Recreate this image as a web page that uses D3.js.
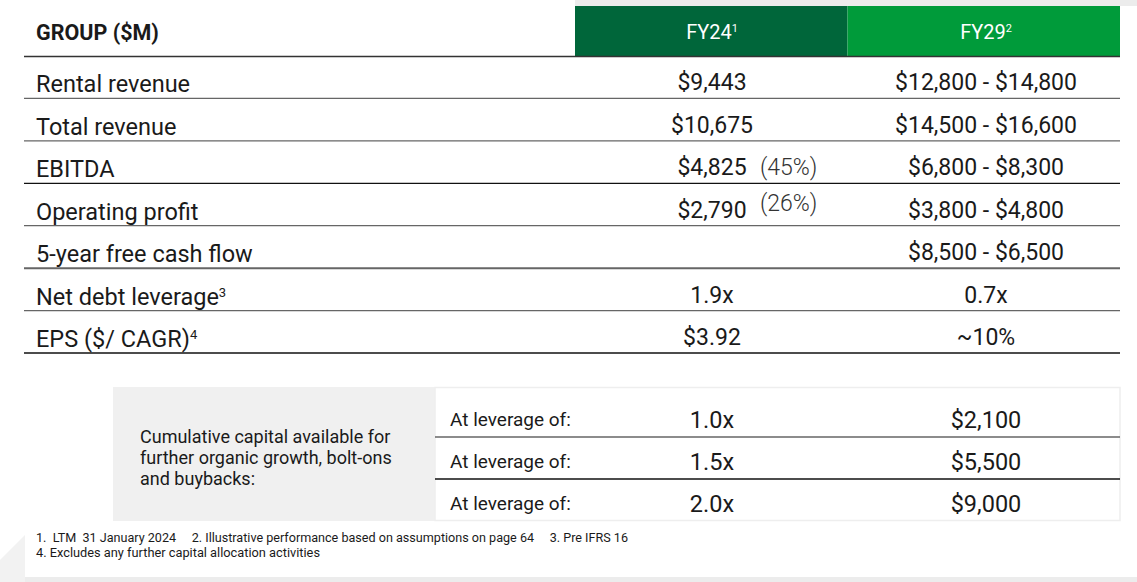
<!DOCTYPE html>
<html>
<head>
<meta charset="utf-8">
<script src="https://cdn.jsdelivr.net/npm/d3@7"></script>
<style>
  body { margin: 0; background: #fff; }
  svg { display: block; font-family: Roboto, "Noto Sans", sans-serif; }
</style>
</head>
<body>
<svg width="1137" height="582"></svg>
<script>
// table contents
var headerTitle = "GROUP ($M)";
var columnNames = ["FY24", "FY29"];
var columnNotes = ["1", "2"];

var rowLabels = ["Rental revenue", "Total revenue", "EBITDA", "Operating profit",
                 "5-year free cash flow", "Net debt leverage", "EPS ($/ CAGR)"];
var rowNotes = ["", "", "", "", "", "3", "4"];
var fy24Values = ["$9,443", "$10,675", "$4,825", "$2,790", "", "1.9x", "$3.92"];
var fy24Margins = ["", "", "(45%)", "(26%)", "", "", ""];
var fy29Values = ["$12,800 - $14,800", "$14,500 - $16,600", "$6,800 - $8,300",
                  "$3,800 - $4,800", "$8,500 - $6,500", "0.7x", "~10%"];

var capitalText = ["Cumulative capital available for", "further organic growth, bolt-ons", "and buybacks:"];
var leverageLabels = ["At leverage of:", "At leverage of:", "At leverage of:"];
var leverageMultiples = ["1.0x", "1.5x", "2.0x"];
var capitalValues = ["$2,100", "$5,500", "$9,000"];

var footnotes = [
  "1.  LTM  31 January 2024     2. Illustrative performance based on assumptions on page 64     3. Pre IFRS 16",
  "4. Excludes any further capital allocation activities"
];

var svg = d3.select("svg");
var width = 1137, height = 582;

// faint page frame
svg.append("rect").attr("x", 575).attr("y", 0).attr("width", width - 575).attr("height", 6).attr("fill", "#ececec");
svg.append("rect").attr("x", 20).attr("y", 577).attr("width", width - 20).attr("height", 5).attr("fill", "#ececec");
svg.append("path").attr("d", "M0,582 L0,560 L25,535 L25,582 Z").attr("fill", "#f2f2f2");

// column positions
var colX = d3.scaleOrdinal().domain(columnNames).range([712, 986]);
var colBand = d3.scaleBand().domain(columnNames).range([575, 1120]);
var colFill = d3.scaleOrdinal().domain(columnNames).range(["#00663a", "#009b3a"]);

var rowY = d3.scaleBand().domain(rowLabels).range([56, 353]);

// header
svg.append("text")
  .attr("x", 36).attr("y", 40)
  .attr("font-size", 21.5).attr("font-weight", "bold").attr("fill", "#1a1a1a")
  .text(headerTitle);

var head = svg.selectAll("g.head")
  .data(columnNames)
  .enter().append("g").attr("class", "head");

head.append("rect")
  .attr("x", d => colBand(d)).attr("y", 6)
  .attr("width", colBand.bandwidth()).attr("height", 50)
  .attr("fill", d => colFill(d));

var headText = head.append("text")
  .attr("x", d => colX(d)).attr("y", 39)
  .attr("text-anchor", "middle").attr("fill", "#fff").attr("font-size", 20);
headText.append("tspan").text(d => d);
headText.append("tspan").attr("font-size", 11).attr("dy", -7).text((d, i) => columnNotes[i]);

svg.append("line")
  .attr("x1", 24).attr("x2", 1120).attr("y1", 56.5).attr("y2", 56.5)
  .attr("stroke", "#333").attr("stroke-width", 1.5);

// body rows
var rows = svg.selectAll("g.row")
  .data(rowLabels)
  .enter().append("g").attr("class", "row")
  .attr("transform", d => "translate(0," + rowY(d) + ")");

var base = rowY.bandwidth() - 6;

var lbl = rows.append("text")
  .attr("x", 36).attr("y", base)
  .attr("font-size", 23.5).attr("fill", "#1a1a1a");
lbl.append("tspan").text(d => d);
lbl.append("tspan").attr("font-size", 13).attr("dy", -8).text((d, i) => rowNotes[i]);

rows.append("text")
  .attr("x", colX("FY24")).attr("y", base - 2)
  .attr("text-anchor", "middle").attr("font-size", 23).attr("fill", "#1a1a1a")
  .text((d, i) => fy24Values[i]);

rows.append("text")
  .attr("x", 760).attr("y", (d, i) => i === 3 ? base - 9 : base - 2)
  .attr("font-size", 23).attr("font-weight", 300).attr("fill", "#333")
  .text((d, i) => fy24Margins[i]);

rows.append("text")
  .attr("x", colX("FY29")).attr("y", base - 2)
  .attr("text-anchor", "middle").attr("font-size", 23).attr("fill", "#1a1a1a")
  .text((d, i) => fy29Values[i]);

rows.append("line")
  .attr("x1", 24).attr("x2", 1120)
  .attr("y1", rowY.bandwidth()).attr("y2", rowY.bandwidth())
  .attr("stroke", (d, i) => (i === 2 || i === 6) ? "#111" : "#666")
  .attr("stroke-width", (d, i) => i === 4 ? 2 : 1.3);

// capital box
var boxTop = 387, boxBottom = 521;
svg.append("rect")
  .attr("x", 113).attr("y", boxTop).attr("width", 322).attr("height", boxBottom - boxTop)
  .attr("fill", "#f0f0f0");
svg.append("rect")
  .attr("x", 435).attr("y", boxTop + 0.5).attr("width", 685).attr("height", boxBottom - boxTop - 1)
  .attr("fill", "#fff").attr("stroke", "#eeeeee").attr("stroke-width", 1.5);

svg.append("g").selectAll("text")
  .data(capitalText)
  .enter().append("text")
  .attr("x", 140).attr("y", (d, i) => 443 + i * 21)
  .attr("font-size", 18).attr("fill", "#1a1a1a")
  .text(d => d);

var levY = d3.scaleBand().domain(d3.range(leverageLabels.length)).range([395, boxBottom]);

var lev = svg.selectAll("g.lev")
  .data(leverageLabels)
  .enter().append("g").attr("class", "lev")
  .attr("transform", (d, i) => "translate(0," + levY(i) + ")");

lev.append("text")
  .attr("x", 450).attr("y", 31)
  .attr("font-size", 19).attr("fill", "#1a1a1a")
  .text(d => d);

lev.append("text")
  .attr("x", colX("FY24")).attr("y", 33)
  .attr("text-anchor", "middle").attr("font-size", 23.5).attr("fill", "#1a1a1a")
  .text((d, i) => leverageMultiples[i]);

lev.append("text")
  .attr("x", colX("FY29")).attr("y", 33)
  .attr("text-anchor", "middle").attr("font-size", 23.5).attr("fill", "#1a1a1a")
  .text((d, i) => capitalValues[i]);

lev.filter((d, i) => i < leverageLabels.length - 1)
  .append("line")
  .attr("x1", 435).attr("x2", 1120)
  .attr("y1", levY.bandwidth()).attr("y2", levY.bandwidth())
  .attr("stroke", (d, i) => i === 0 ? "#666" : "#111")
  .attr("stroke-width", 1.3);

// footnotes
svg.append("g").selectAll("text")
  .data(footnotes)
  .enter().append("text")
  .attr("x", 36).attr("y", (d, i) => 542 + i * 15)
  .attr("font-size", 12.5).attr("fill", "#1a1a1a")
  .attr("textLength", (d, i) => i === 0 ? 592 : 284)
  .attr("lengthAdjust", "spacingAndGlyphs")
  .style("white-space", "pre")
  .text(d => d);
</script>
</body>
</html>
